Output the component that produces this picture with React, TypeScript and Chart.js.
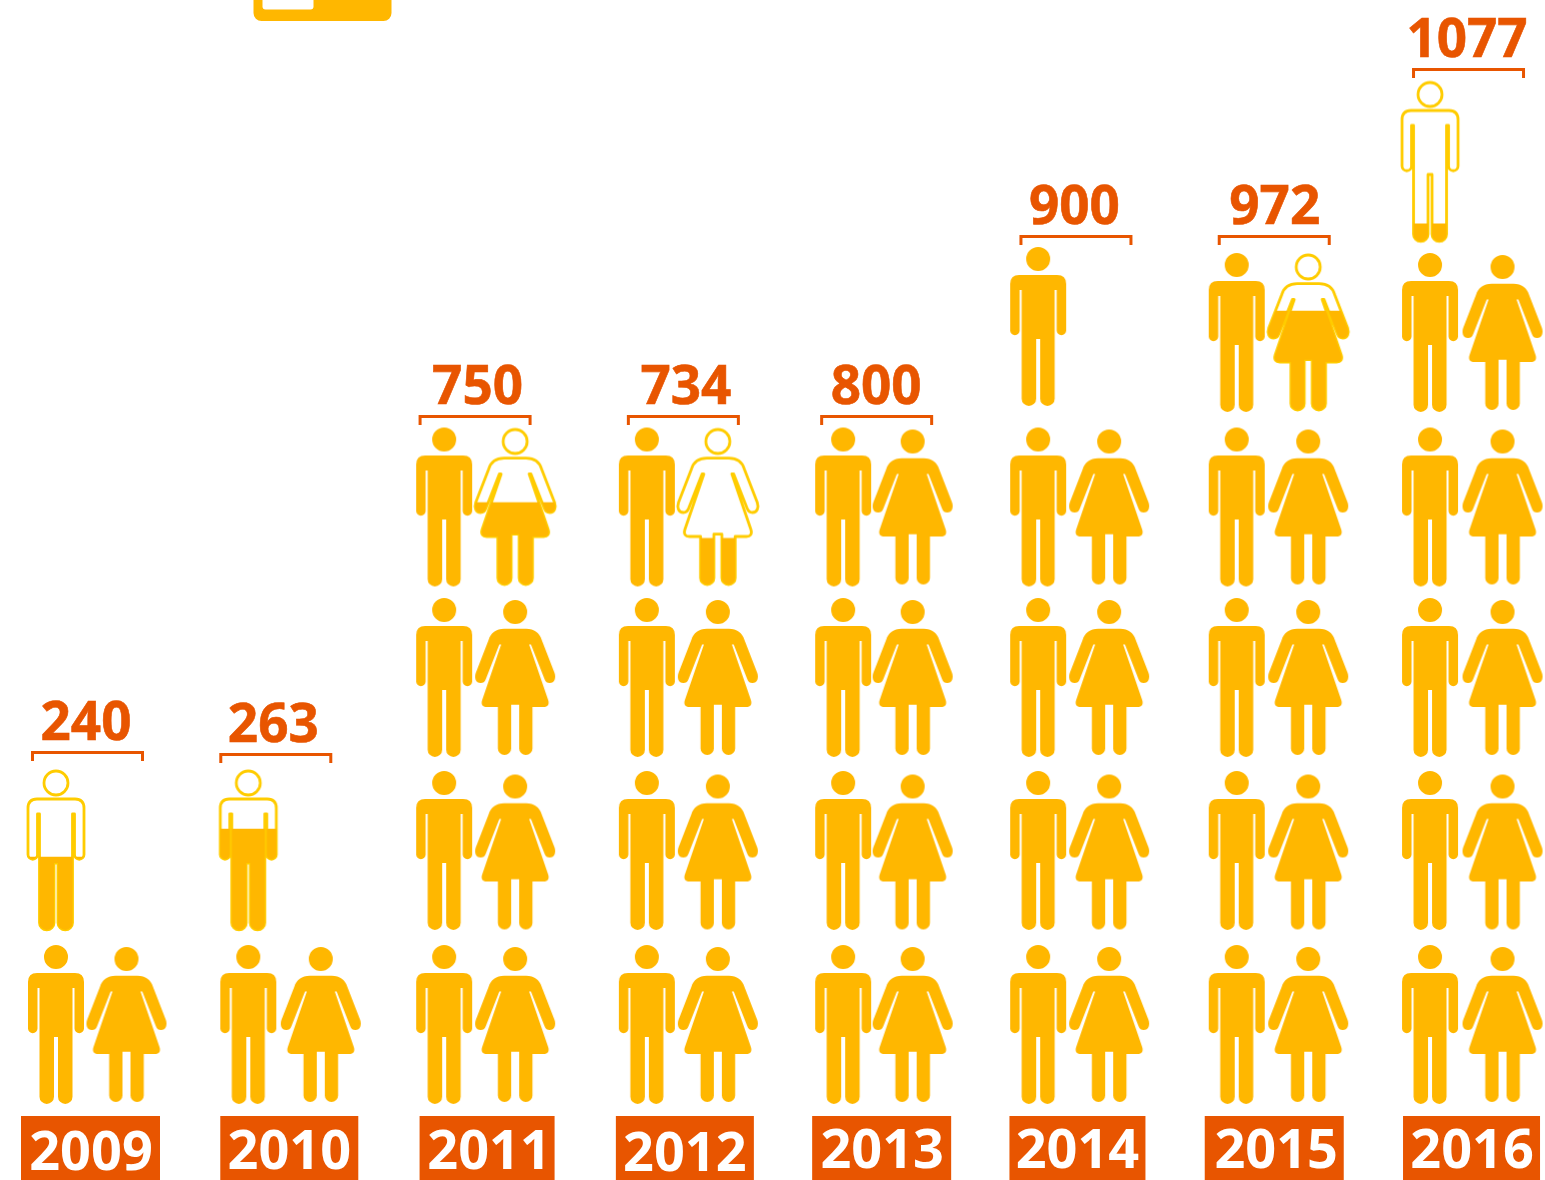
import React, { useEffect, useRef } from "react";
import { Chart, registerables } from "chart.js";

Chart.register(...registerables);

// ---- data ----
const years = [2009, 2010, 2011, 2012, 2013, 2014, 2015, 2016];
const totals = [240, 263, 750, 734, 800, 900, 972, 1077];
const fullIcons = [2, 2, 7, 7, 8, 9, 9, 10];
const partialFill = [0.46, 0.637, 0.53, 0.3, 0, 0, 0.64, 0.113];

// ---- layout tables (pixels, relative to the scales) ----
const W = 1545;
const H = 1180;
const PX_PER_YEAR = 196.29;
const PX_PER_UNIT = 0.8625; // 172.5 px for a row of two icons = 200 people
const WOMAN_GAP = [70.5, 72.5, 71, 71, 69.5, 71, 71.5, 72.5];
const COL_NUDGE = [0, -4, -4.4, 2, 2, 0.7, 3, 0];
const ROW_NUDGE = [0, -1.5, -2, 0, -2, 0];
const WOMAN_ROW_NUDGE = [0, 1.5, 0, 0, 0, 0];
const BRACKET_LEFT = [-25, -29, -25.6, -20, -23, -18.7, -19, -18];
const BRACKET_RISE = [21.5, 19.5, 12.5, 12.5, 12.5, 20, 20, 14.5];
const VALUE_CENTER = [30, 25, 33.4, 39, 33, 36.3, 38, 37];
const BOX_LEFT = [-35, -28, -24.6, -31, -31, -28.7, -32, -27];
const BOX_WIDTH = [139, 138, 135, 138, 139, 136, 139, 137];
const YEAR_NUDGE = [0.5, 0, 2, 0, 0.5, 0, 2, 0.5];
const YEAR_BASE = [1170, 1168.5, 1168.5, 1170.5, 1168, 1168, 1168, 1168];

const AMBER = "#FFB700";
const YELLOW = "#FFCC00";
const ORANGE = "#E85500";

const ICON_W = 100;
const ICON_H = 170;

function manPath(): Path2D {
  const p = new Path2D();
  p.moveTo(-19, 28);
  p.lineTo(19, 28);
  p.quadraticCurveTo(28, 28, 28, 37);
  p.lineTo(28, 83.5);
  p.arc(23.25, 83.5, 4.75, 0, Math.PI, false);
  p.lineTo(18.5, 43);
  p.lineTo(16.5, 43);
  p.lineTo(16.5, 151.7);
  p.arc(9.25, 151.7, 7.25, 0, Math.PI, false);
  p.lineTo(2, 92);
  p.lineTo(-2, 92);
  p.lineTo(-2, 151.7);
  p.arc(-9.25, 151.7, 7.25, 0, Math.PI, false);
  p.lineTo(-16.5, 43);
  p.lineTo(-18.5, 43);
  p.lineTo(-18.5, 83.5);
  p.arc(-23.25, 83.5, 4.75, 0, Math.PI, false);
  p.lineTo(-28, 37);
  p.quadraticCurveTo(-28, 28, -19, 28);
  p.closePath();
  p.moveTo(12, 12);
  p.arc(0, 12, 12, 0, Math.PI * 2);
  p.closePath();
  return p;
}

function womanPath(): Path2D {
  const p = new Path2D();
  p.moveTo(-11, 30.7);
  p.lineTo(11, 30.7);
  p.bezierCurveTo(19, 30.7, 24.5, 35, 26.5, 41.7);
  p.lineTo(39.4, 75);
  p.bezierCurveTo(41, 80, 39.5, 85, 34.5, 85);
  p.bezierCurveTo(32, 85, 30.5, 84, 29.3, 81);
  p.lineTo(15.8, 46.5);
  p.lineTo(14, 46.5);
  p.lineTo(33, 102);
  p.bezierCurveTo(34.5, 106.5, 32.5, 109, 28.5, 109);
  p.lineTo(17.3, 109);
  p.lineTo(17.3, 150.4);
  p.arc(10.65, 150.4, 6.65, 0, Math.PI, false);
  p.lineTo(4, 106.7);
  p.lineTo(-4, 106.7);
  p.lineTo(-4, 150.4);
  p.arc(-10.65, 150.4, 6.65, 0, Math.PI, false);
  p.lineTo(-17.3, 109);
  p.lineTo(-28.5, 109);
  p.bezierCurveTo(-32.5, 109, -34.5, 106.5, -33, 102);
  p.lineTo(-14, 46.5);
  p.lineTo(-15.8, 46.5);
  p.lineTo(-29.3, 81);
  p.bezierCurveTo(-30.5, 84, -32, 85, -34.5, 85);
  p.bezierCurveTo(-39.5, 85, -41, 80, -39.4, 75);
  p.lineTo(-26.5, 41.7);
  p.bezierCurveTo(-24.5, 35, -19, 30.7, -11, 30.7);
  p.closePath();
  p.moveTo(12, 14);
  p.arc(0, 14, 12, 0, Math.PI * 2);
  p.closePath();
  return p;
}

// fill = 1: solid icon; otherwise outline with the bottom share filled.
function makeIcon(isMan: boolean, fill: number): HTMLCanvasElement {
  const c = document.createElement("canvas");
  c.width = ICON_W;
  c.height = ICON_H;
  const ctx = c.getContext("2d")!;
  ctx.translate(ICON_W / 2, 5);
  const path = isMan ? manPath() : womanPath();
  if (fill >= 1) {
    ctx.fillStyle = AMBER;
    ctx.fill(path);
    return c;
  }
  const top = isMan ? 0 : 2;
  const bottom = isMan ? 159 : 157;
  const level = bottom - (bottom - top) * fill;
  ctx.strokeStyle = YELLOW;
  ctx.lineWidth = 2.8;
  ctx.lineJoin = "round";
  ctx.stroke(path);
  ctx.save();
  ctx.beginPath();
  ctx.rect(-60, level, 120, 200);
  ctx.clip();
  ctx.fillStyle = AMBER;
  ctx.fill(path);
  ctx.restore();
  return c;
}

const colManPx = (i: number) => COL_NUDGE[i];

function buildPoints() {
  const full: any[] = [];
  const fullStyle: HTMLCanvasElement[] = [];
  const partial: any[] = [];
  const partialStyle: HTMLCanvasElement[] = [];
  const solidMan = makeIcon(true, 1);
  const solidWoman = makeIcon(false, 1);
  const place = (col: number, idx: number) => {
    const row = Math.floor(idx / 2);
    const isMan = idx % 2 === 0;
    let dy = ROW_NUDGE[row] + (isMan ? 0 : WOMAN_ROW_NUDGE[row]);
    if (col === 5 && row === 4) dy -= 6;
    const dx = COL_NUDGE[col] + (isMan ? 0 : WOMAN_GAP[col]);
    return {
      x: years[col] + dx / PX_PER_YEAR,
      y: row * 200 + 100 - dy / PX_PER_UNIT,
      isMan,
    };
  };
  years.forEach((_, col) => {
    for (let idx = 0; idx < fullIcons[col]; idx++) {
      const pt = place(col, idx);
      full.push({ x: pt.x, y: pt.y });
      fullStyle.push(pt.isMan ? solidMan : solidWoman);
    }
    if (partialFill[col] > 0) {
      const pt = place(col, fullIcons[col]);
      partial.push({ x: pt.x, y: pt.y });
      partialStyle.push(makeIcon(pt.isMan, partialFill[col]));
    }
  });
  return { full, fullStyle, partial, partialStyle };
}

const labelsPlugin = {
  id: "pictogramLabels",
  afterDatasetsDraw(chart: any) {
    const { ctx, scales } = chart;
    const xs = scales.x;
    const ys = scales.y;
    ctx.save();
    years.forEach((year, i) => {
      const manX = xs.getPixelForValue(year) + colManPx(i);
      const slots = fullIcons[i] + (partialFill[i] > 0 ? 1 : 0);
      const topRow = Math.floor((slots - 1) / 2);
      const topY = ys.getPixelForValue(topRow * 200 + 100) - 80;
      const by = topY - BRACKET_RISE[i];
      const bx = manX + BRACKET_LEFT[i];

      // bracket
      ctx.strokeStyle = ORANGE;
      ctx.lineWidth = 3;
      ctx.lineJoin = "miter";
      ctx.beginPath();
      ctx.moveTo(bx + 1.5, by + 10);
      ctx.lineTo(bx + 1.5, by + 1.5);
      ctx.lineTo(bx + 111.5, by + 1.5);
      ctx.lineTo(bx + 111.5, by + 10);
      ctx.stroke();

      // value
      ctx.fillStyle = ORANGE;
      ctx.strokeStyle = ORANGE;
      ctx.lineWidth = 0.6;
      ctx.font = '700 53px "Open Sans"';
      ctx.textAlign = "center";
      ctx.textBaseline = "alphabetic";
      ctx.fillText(String(totals[i]), manX + VALUE_CENTER[i], by - 11);
      ctx.strokeText(String(totals[i]), manX + VALUE_CENTER[i], by - 11);

      // year box
      const left = manX + BOX_LEFT[i];
      const boxTop = ys.getPixelForValue(0) + 4.75;
      ctx.fillStyle = ORANGE;
      ctx.fillRect(left, boxTop, BOX_WIDTH[i], H - boxTop);
      ctx.fillStyle = "#FFFFFF";
      ctx.font = '700 54px "Open Sans"';
      ctx.fillText(String(year), left + BOX_WIDTH[i] / 2 + YEAR_NUDGE[i], YEAR_BASE[i]);
    });

    // cropped fragment of a legend icon at the top edge
    ctx.fillStyle = AMBER;
    ctx.beginPath();
    ctx.roundRect(253.5, -20, 138, 41, 8);
    ctx.fill();
    ctx.fillStyle = "#FFFFFF";
    ctx.beginPath();
    ctx.roundRect(262.5, -20, 51, 29.5, 3);
    ctx.fill();
    ctx.restore();
  },
};

export default function App() {
  const ref = useRef<HTMLCanvasElement | null>(null);
  useEffect(() => {
    const { full, fullStyle, partial, partialStyle } = buildPoints();
    const chart = new Chart(ref.current!, {
      type: "scatter",
      data: {
        datasets: [
          {
            label: "Full icons",
            data: full,
            pointStyle: fullStyle as any,
            pointRadius: 5,
            showLine: false,
          },
          {
            label: "Partial icons",
            data: partial,
            pointStyle: partialStyle as any,
            pointRadius: 5,
            showLine: false,
          },
        ],
      },
      options: {
        responsive: false,
        animation: false,
        devicePixelRatio: 1,
        layout: { padding: 0, autoPadding: false },
        plugins: { legend: { display: false }, tooltip: { enabled: false } },
        scales: {
          x: {
            type: "linear",
            display: false,
            min: years[0] - 56 / PX_PER_YEAR,
            max: years[0] + (W - 56) / PX_PER_YEAR,
          },
          y: {
            type: "linear",
            display: false,
            min: 100 - (H - 1025) / PX_PER_UNIT,
            max: 100 + 1025 / PX_PER_UNIT,
          },
        },
      },
      plugins: [labelsPlugin],
    } as any);
    return () => chart.destroy();
  }, []);
  return (
    <canvas
      ref={ref}
      width={W}
      height={H}
      style={{ position: "absolute", left: 0, top: 0, width: W, height: H, display: "block" }}
    />
  );
}
